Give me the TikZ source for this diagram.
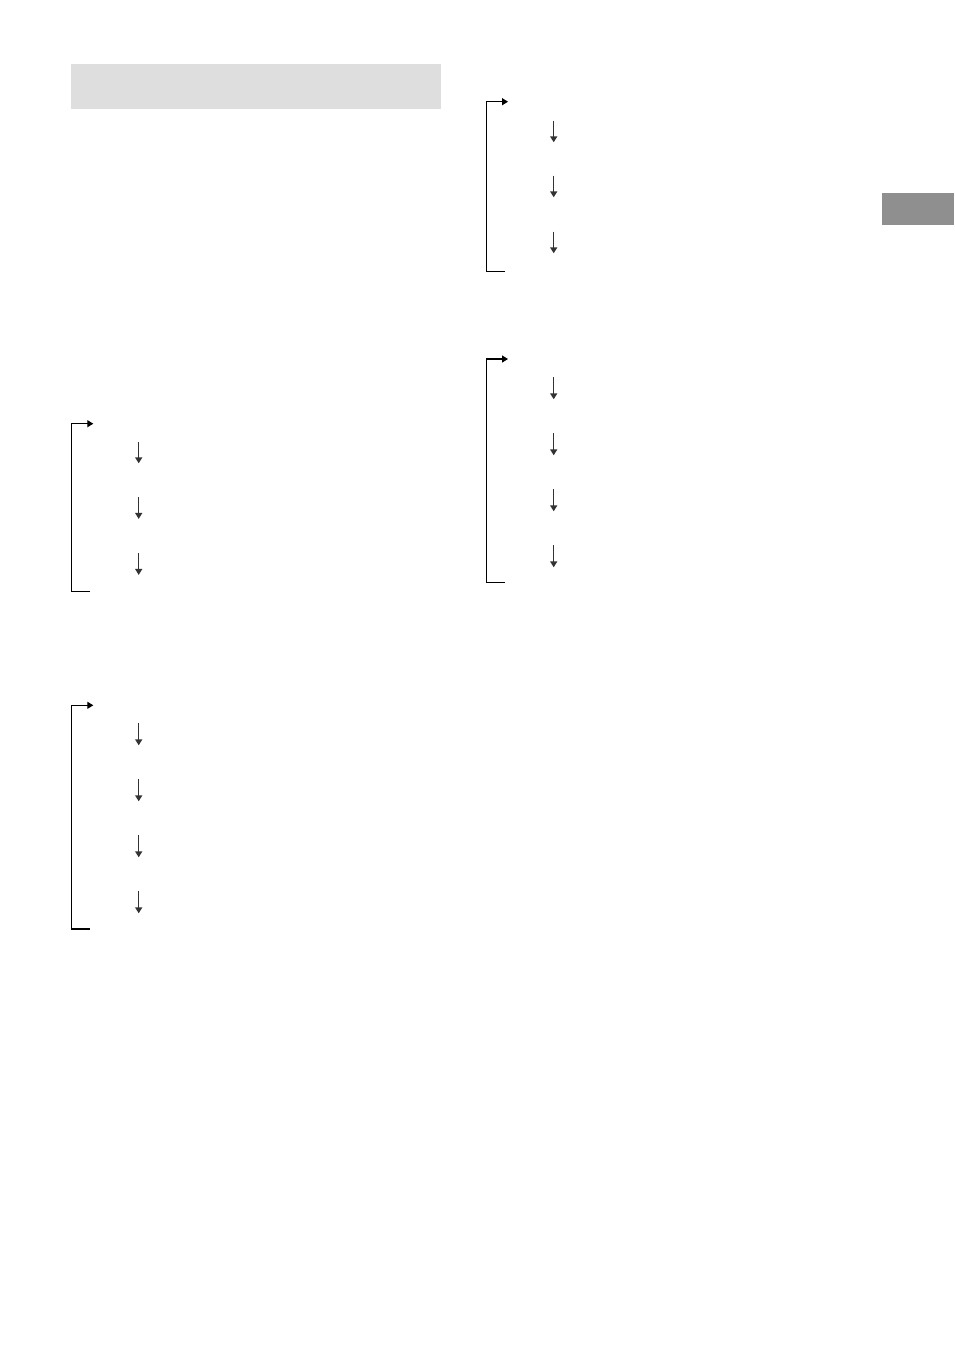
\documentclass[tikz,border=0pt]{standalone}
\usetikzlibrary{arrows.meta,positioning}
\definecolor{barfill}{HTML}{DEDEDE}
\definecolor{tabfill}{HTML}{8F8F8F}

\begin{document}
\begin{tikzpicture}[%
    x=1pt, y=-1pt,                          % page units, y grows downwards
    >={Triangle[width=7pt,length=6pt]},     % small solid heads
    ]

\tikzset{
    bar/.style={draw=none, inner sep=0pt, fill=barfill},
    tab/.style={draw=none, inner sep=0pt, fill=tabfill},
    % bracket going back to the top of a cycle
    loopline/.style={->, line width=1.2pt},
    % one step down in a cycle
    stepdown/.style={->, line width=1.5pt, black!80},
}

\useasboundingbox (0,0) rectangle (954,1352);

%% Header and side tab
\node [bar, minimum width=370pt, minimum height=45pt] (title) at (256,86.5) {};
\node [tab, minimum width=72pt, minimum height=32.3pt] (sidetab) at (918,208.8) {};

%% Left cycle, three steps
\coordinate (cycAtop) at (71.7,423.7);
\coordinate (cycAtip) at (93.3,423.7);
\coordinate (cycAend) at (90,591.3);
    \draw[loopline] (cycAend) -| (cycAtop) -- (cycAtip);
\foreach \i/\y in {1/441.7, 2/497.3, 3/553.3}{
    \coordinate (cycA\i s) at (138.7,\y);
    \coordinate (cycA\i e) at (138.7,\y+21.6);
    \draw[stepdown] (cycA\i s) -- (cycA\i e);
}

%% Left cycle, four steps
\coordinate (cycBtop) at (71.7,705.3);
\coordinate (cycBtip) at (93.3,705.3);
\coordinate (cycBend) at (90,929);
    \draw[loopline] (cycBend) -| (cycBtop) -- (cycBtip);
\foreach \i/\y in {1/723.3, 2/779.3, 3/835.3, 4/891.3}{
    \coordinate (cycB\i s) at (138.7,\y);
    \coordinate (cycB\i e) at (138.7,\y+22);
    \draw[stepdown] (cycB\i s) -- (cycB\i e);
}

%% Right cycle, three steps
\coordinate (cycCtop) at (486.3,101.7);
\coordinate (cycCtip) at (508,101.7);
\coordinate (cycCend) at (505,271.3);
    \draw[loopline] (cycCend) -| (cycCtop) -- (cycCtip);
\foreach \i/\y in {1/120.7, 2/175.7, 3/231.7}{
    \coordinate (cycC\i s) at (553.7,\y);
    \coordinate (cycC\i e) at (553.7,\y+21.6);
    \draw[stepdown] (cycC\i s) -- (cycC\i e);
}

%% Right cycle, four steps
\coordinate (cycDtop) at (486.3,359);
\coordinate (cycDtip) at (508,359);
\coordinate (cycDend) at (505,582.3);
    \draw[loopline] (cycDend) -| (cycDtop) -- (cycDtip);
\foreach \i/\y in {1/377.3, 2/433.3, 3/489.3, 4/545.3}{
    \coordinate (cycD\i s) at (553.7,\y);
    \coordinate (cycD\i e) at (553.7,\y+22);
    \draw[stepdown] (cycD\i s) -- (cycD\i e);
}
\end{tikzpicture}
\end{document}
